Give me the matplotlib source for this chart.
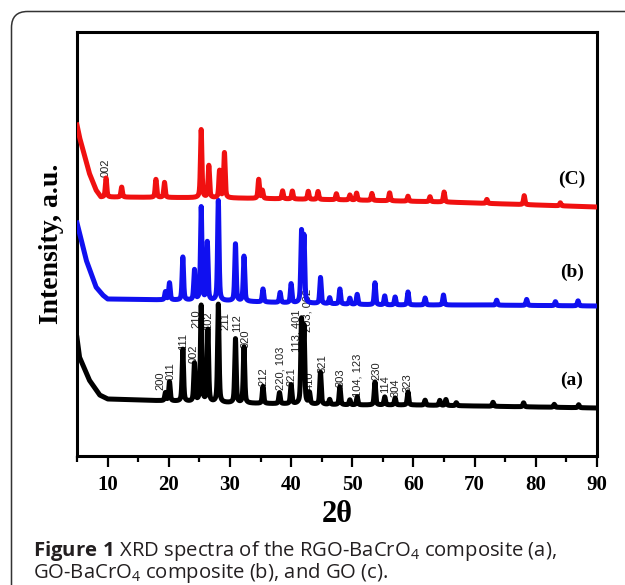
import numpy as np
import matplotlib
matplotlib.use("Agg")
import matplotlib.pyplot as plt
from matplotlib.patches import FancyBboxPatch
from matplotlib.transforms import IdentityTransform

# ---------------- data ----------------
# baseline anchor points (2theta, intensity a.u.)
base_a_x = [5.0, 5.4, 7.0, 8.7, 10.0, 20.0, 30.0, 40.0, 50.0, 60.0, 70.0, 80.0, 90.0]
base_a_y = [118, 99, 76, 61, 57, 55, 53, 52, 51, 51, 50, 49, 48]
base_b_x = [5.0, 6.5, 8.1, 9.2, 10.0, 20.0, 30.0, 40.0, 55.0, 70.0, 90.0]
base_b_y = [233, 196, 169, 161, 157, 156, 155, 153, 151, 151, 150]
base_c_x = [5.0, 5.4, 7.0, 8.1, 8.9, 10.0, 30.0, 50.0, 65.0, 90.0]
base_c_y = [331, 319, 283, 266, 259, 259, 258, 256, 254, 249]

# peak positions (2theta) and heights above baseline
peaks_a_pos = [19.46, 20.12, 22.3, 24.2, 25.3, 26.4, 28.1, 30.9, 32.3, 35.4, 38.1, 40.0,
               41.7, 42.1, 43.0, 44.8, 46.3, 47.97, 49.6, 50.8, 53.7, 55.3, 57.0, 59.1,
               61.9, 64.3, 65.3, 67.0, 73.0, 78.0, 83.0, 87.0]
peaks_a_amp = [8, 19, 52, 38, 96, 72, 98, 64, 56, 17, 11, 19,
               82, 75, 11, 32, 5, 18, 5, 8, 23, 8, 7, 13,
               5, 5, 6, 3, 4, 4, 3, 3]
peaks_b_pos = [19.46, 20.12, 22.3, 24.2, 25.3, 26.3, 28.1, 30.9, 32.3, 35.4, 38.2, 40.0,
               41.7, 42.1, 44.8, 46.3, 47.97, 49.6, 50.8, 53.7, 55.3, 57.0, 59.1, 61.9,
               64.9, 73.6, 78.5, 83.2, 86.9]
peaks_b_amp = [8, 17, 43, 30, 93, 58, 100, 57, 45, 13, 10, 19,
               70, 65, 26, 6, 15, 6, 10, 22, 9, 8, 13, 7,
               10, 5, 6, 4, 5]
peaks_c_pos = [9.75, 12.3, 17.9, 19.3, 25.3, 26.55, 28.3, 29.1, 34.7, 35.3, 38.6, 40.2,
               42.8, 44.4, 47.4, 49.6, 50.7, 53.2, 56.1, 59.1, 62.7, 65.0, 72.0, 78.1, 84.0]
peaks_c_amp = [19, 10, 18, 15, 68, 32, 27, 45, 19, 8, 8, 8,
               8, 8, 6, 5, 7, 7, 8, 5, 5, 10, 4, 9, 3]

# hkl labels of curve (a) and the GO (002) label
hkl_text = ["200", "011", "111", "002", "210", "102", "211", "112", "020", "212",
            "220, 103", "221", "113, 401", "203, 002", "410", "321", "303", "104, 123",
            "230", "114", "304", "323"]
hkl_pos = [18.6, 20.3, 22.3, 24.0, 24.5, 26.5, 29.3, 31.25, 32.6, 35.4,
           38.3, 40.1, 40.9, 42.6, 43.1, 45.2, 48.1, 50.8,
           54.0, 55.3, 57.0, 59.0]
hkl_h = [66, 76, 106, 93, 128, 126, 126, 124, 108, 70,
         66, 70, 104, 124, 66, 83, 69, 59,
         76, 63, 59, 64]
go_label, go_pos, go_h = "002", 9.75, 279

curve_names = ["(a)", "(b)", "(C)"]
curve_name_x = [85.9, 85.9, 85.9]
curve_name_y = [76, 184, 277]
colors = ["#000000", "#1010f0", "#f01010"]

# ---------------- drawing ----------------
plt.rcParams['mathtext.fontset'] = 'custom'
plt.rcParams['mathtext.rm'] = 'Open Sans'
plt.rcParams['mathtext.bf'] = 'Open Sans:bold'

W, H = 625, 585
fig = plt.figure(figsize=(W / 100, H / 100), dpi=100)
ax = fig.add_axes([77 / W, 1 - 456 / H, (597 - 77) / W, (456 - 32) / H])

tt = np.arange(5.0, 90.0001, 0.01)


def profile(bx, by, pos, amp, fwhm=0.28):
    y = np.interp(tt, bx, by).astype(float)
    g = fwhm / 2.0
    for p, a in zip(pos, amp):
        lor = 1.0 / (1.0 + ((tt - p) / g) ** 2)
        gau = np.exp(-np.log(2) * ((tt - p) / g) ** 2)
        y += a * (0.5 * lor + 0.5 * gau)
    return y


ya = profile(base_a_x, base_a_y, peaks_a_pos, peaks_a_amp)
yb = profile(base_b_x, base_b_y, peaks_b_pos, peaks_b_amp)
yc = profile(base_c_x, base_c_y, peaks_c_pos, peaks_c_amp)

ax.plot(tt, ya, color=colors[0], lw=3.6, zorder=2, solid_joinstyle='round')
ax.plot(tt, yb, color=colors[1], lw=3.6, zorder=3, solid_joinstyle='round')
ax.plot(tt, yc, color=colors[2], lw=3.6, zorder=4, solid_joinstyle='round')

lab_font = dict(family=['Liberation Sans', 'DejaVu Sans'], fontsize=8, color='#222222')
for t, p, h in zip(hkl_text, hkl_pos, hkl_h):
    ax.text(p, h, t, rotation=90, ha='center', va='bottom', zorder=1.5, **lab_font)
ax.text(go_pos, go_h, go_label, rotation=90, ha='center', va='bottom', zorder=1.5, **lab_font)

serif = ['Liberation Serif', 'DejaVu Serif']
for n, x, y in zip(curve_names, curve_name_x, curve_name_y):
    ax.text(x, y, n, ha='center', va='center', fontsize=14, fontweight='bold', family=serif)

ax.set_xlim(5, 90)
ax.set_ylim(0, 424)
ax.set_xticks(np.arange(10, 91, 10))
ax.set_xticks(np.arange(5, 91, 5), minor=True)
ax.set_yticks([])
ax.tick_params(axis='x', which='major', direction='out', length=8, width=1.6, pad=6,
               labelsize=15)
ax.tick_params(axis='x', which='minor', direction='out', length=4.5, width=1.6)
for lbl in ax.get_xticklabels():
    lbl.set_family(serif)
    lbl.set_fontweight('bold')
for s in ax.spines.values():
    s.set_linewidth(2.2)

ax.set_xlabel('2θ', fontsize=22, fontweight='bold', family=serif, labelpad=3)
ax.set_ylabel('Intensity, a.u.', fontsize=20, fontweight='bold', family=serif, labelpad=9)

# caption
cap_font = dict(family=['Open Sans', 'DejaVu Sans'], fontsize=14.6, color='#231f20')
fig.text(33 / W, 1 - 556 / H, r"$\mathbf{Figure\ 1}$ XRD spectra of the RGO-BaCrO$_4$ composite (a),",
         ha='left', va='baseline', **cap_font)
fig.text(33 / W, 1 - 578 / H, r"GO-BaCrO$_4$ composite (b), and GO (c).",
         ha='left', va='baseline', **cap_font)

# rounded frame around the figure
frame = FancyBboxPatch((11.5, -40), 700, H - 11.5 + 40, boxstyle="round,pad=0,rounding_size=16",
                       transform=IdentityTransform(), fill=False, edgecolor='#333333', lw=1.1)
fig.add_artist(frame)

fig.savefig("out.png", dpi=100)
